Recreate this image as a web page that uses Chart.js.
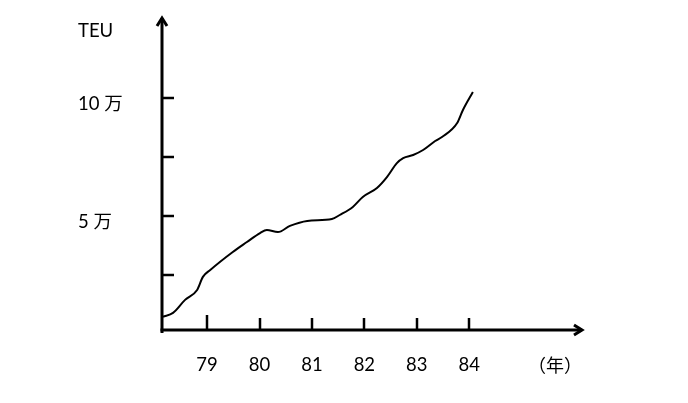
<!DOCTYPE html>
<html><head><meta charset="utf-8">
<script src="https://cdn.jsdelivr.net/npm/chart.js@4.4.1/dist/chart.umd.min.js"></script>
<style>html,body{margin:0;padding:0;background:#fff;overflow:hidden}#wrap{width:688px;height:403px;position:relative}</style>
</head><body><div id="wrap"><canvas id="c" width="688" height="403"></canvas></div>
<script>
// Data (year, value in 万 TEU)
const years = [78.16,78.35,78.58,78.81,78.92,79.06,79.49,79.76,80.01,80.14,80.35,80.58,80.91,81.38,81.53,81.78,81.97,82.24,82.43,82.62,82.74,82.93,83.12,83.35,83.48,83.77,83.88,84.07];
const teu   = [0.76,0.92,1.47,1.89,2.44,2.73,3.49,3.91,4.29,4.42,4.33,4.59,4.80,4.88,5.05,5.39,5.81,6.19,6.65,7.24,7.45,7.58,7.79,8.17,8.34,8.93,9.48,10.24];
const xTickYears = [79,80,81,82,83,84];
const xTickLabels = ['79','80','81','82','83','84'];
const yTickValues = [2.5,5,7.5,10];
const yLabelValues = [5,10];
const yLabelTexts = ['5 万','10 万'];
const yTitle = 'TEU';
const xTitle = '（年）';

const axesPlugin = {
  id: 'axesPlugin',
  beforeDatasetsDraw(chart) {
    const {ctx, chartArea: a, scales: {x, y}} = chart;
    ctx.save();
    ctx.strokeStyle = '#000';
    ctx.lineWidth = 3;
    ctx.lineJoin = 'miter';
    // y axis
    ctx.beginPath();
    ctx.moveTo(a.left, a.bottom + 3);
    ctx.lineTo(a.left, a.top + 1);
    ctx.stroke();
    ctx.beginPath();
    ctx.moveTo(a.left - 5, a.top + 9);
    ctx.lineTo(a.left, a.top + 1);
    ctx.lineTo(a.left + 5, a.top + 9);
    ctx.stroke();
    // x axis
    ctx.beginPath();
    ctx.moveTo(a.left - 1.5, a.bottom);
    ctx.lineTo(a.right - 1, a.bottom);
    ctx.stroke();
    ctx.beginPath();
    ctx.moveTo(a.right - 9, a.bottom - 5);
    ctx.lineTo(a.right - 1, a.bottom);
    ctx.lineTo(a.right - 9, a.bottom + 5);
    ctx.stroke();
    // ticks
    ctx.lineWidth = 2.5;
    xTickYears.forEach((v, i) => {
      const px = Math.round(x.getPixelForValue(v));
      ctx.beginPath();
      ctx.moveTo(px, a.bottom);
      ctx.lineTo(px, a.bottom - (i === 0 ? 15 : 12));
      ctx.stroke();
    });
    yTickValues.forEach(v => {
      const py = Math.round(y.getPixelForValue(v));
      ctx.beginPath();
      ctx.moveTo(a.left, py);
      ctx.lineTo(a.left + 12, py);
      ctx.stroke();
    });
    // text
    ctx.fillStyle = '#000';
    ctx.font = '18.5px Lato, "Noto Sans CJK SC", sans-serif';
    ctx.textBaseline = 'alphabetic';
    ctx.textAlign = 'left';
    ctx.fillText(yTitle, 78, 37);
    yLabelValues.forEach((v, i) => {
      ctx.fillText(yLabelTexts[i], 78, y.getPixelForValue(v) + 12);
    });
    ctx.textAlign = 'center';
    xTickYears.forEach((v, i) => {
      ctx.fillText(xTickLabels[i], x.getPixelForValue(v), 371);
    });
    ctx.font = '18px "Noto Sans CJK SC", sans-serif';
    ctx.textBaseline = 'middle';
    ctx.fillText(xTitle, 555, 365);
    ctx.restore();
  }
};

new Chart(document.getElementById('c'), {
  type: 'line',
  data: {
    datasets: [{
      data: years.map((yr, i) => ({x: yr, y: teu[i]})),
      borderColor: '#000',
      borderWidth: 2,
      pointRadius: 0,
      fill: false,
      cubicInterpolationMode: 'monotone',
      tension: 0.4
    }]
  },
  options: {
    responsive: false,
    devicePixelRatio: 1,
    animation: false,
    layout: {padding: {left: 162, right: 105, top: 17, bottom: 73}},
    plugins: {legend: {display: false}, tooltip: {enabled: false}},
    scales: {
      x: {type: 'linear', display: false, min: 78.14, max: 86.17},
      y: {type: 'linear', display: false, min: 0.2, max: 13.4}
    }
  },
  plugins: [axesPlugin]
});
</script>
</body></html>
